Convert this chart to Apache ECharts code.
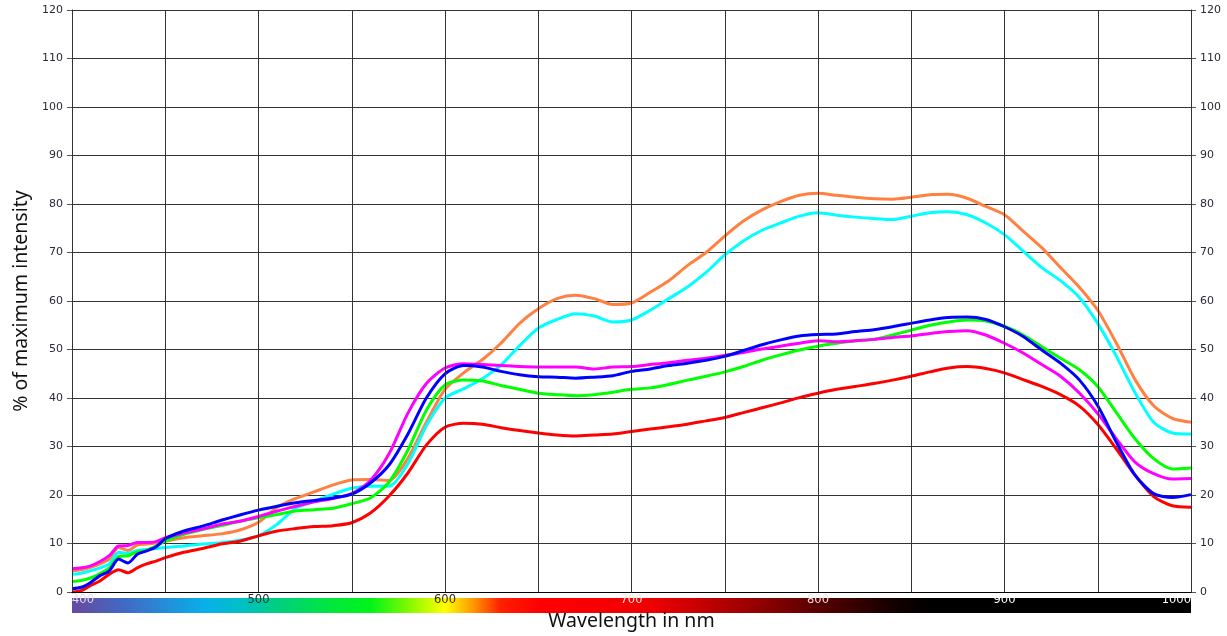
<!DOCTYPE html>
<html>
<head>
<meta charset="utf-8">
<script src="https://cdn.jsdelivr.net/npm/echarts@6/dist/echarts.min.js"></script>
<style>html,body{margin:0;padding:0;background:#fff}#c{width:1227px;height:636px}</style>
</head>
<body>
<div id="c"></div>
<script>
// Wavelengths (nm)
var wavelengths = [400,405,410,415,420,425,430,435,440,445,450,
  460,470,480,490,500,510,520,530,540,550,560,570,580,590,600,
  610,620,630,640,650,660,670,680,690,700,710,720,730,740,750,760,770,780,790,800,
  810,820,830,840,850,860,870,880,890,900,910,920,930,940,950,960,970,980,990,1000];

var orangeValues = [4.4,4.6,5.1,5.8,6.8,9.2,8.6,9.7,9.9,10.1,10.5,
  11.2,11.6,12.0,12.8,14.4,17.5,19.3,20.7,22.1,23.1,23.2,23.0,27.5,35.0,41.8,
  45.2,47.9,51.3,55.4,58.4,60.5,61.2,60.5,59.3,59.6,61.8,64.2,67.3,70.0,73.4,76.5,78.8,80.5,81.8,82.2,
  81.8,81.4,81.1,81.0,81.4,81.9,82.0,81.2,79.5,77.8,74.4,71.0,66.9,62.9,58.1,51.3,43.8,38.4,35.8,35.0];

var cyanValues = [3.7,3.9,4.4,5.0,5.8,8.2,8.0,8.6,8.8,9.0,9.2,
  9.5,9.9,10.2,10.7,11.6,14.0,17.3,18.7,20.2,21.4,21.8,21.8,26.4,34.3,40.0,
  41.9,44.0,46.8,50.8,54.4,56.2,57.4,56.9,55.7,56.1,58.1,60.5,62.9,65.9,69.5,72.4,74.6,76.1,77.5,78.2,
  77.7,77.3,77.0,76.8,77.5,78.2,78.4,77.8,76.1,73.7,70.3,66.9,64.2,60.8,55.4,48.6,41.1,35.0,32.8,32.6];

var magentaValues = [4.8,5.0,5.4,6.3,7.5,9.5,9.6,10.2,10.2,10.4,11.2,
  12.2,13.0,14.0,14.6,15.6,16.7,17.7,18.6,19.3,20.3,23.0,28.5,36.8,43.0,46.2,
  47.1,46.9,46.7,46.5,46.4,46.4,46.4,46.0,46.4,46.5,46.9,47.3,47.8,48.2,48.8,49.4,50.1,50.7,51.3,51.8,
  51.6,51.8,52.1,52.5,52.8,53.3,53.7,53.9,53.0,51.3,49.3,46.9,44.5,41.1,36.8,31.6,26.8,24.4,23.3,23.4];

var blueValues = [0.7,1.0,2.0,3.4,4.4,6.8,6.0,7.8,8.5,9.3,11.0,
  12.6,13.6,14.8,15.9,16.9,17.7,18.4,18.9,19.4,20.2,22.5,26.2,32.5,40.0,45.0,
  46.7,46.4,45.5,44.8,44.4,44.3,44.1,44.3,44.6,45.5,46.0,46.7,47.2,47.8,48.6,49.8,51.0,52.0,52.8,53.1,
  53.2,53.7,54.1,54.7,55.4,56.1,56.6,56.7,56.2,54.7,52.7,49.9,47.2,43.8,38.4,30.9,24.1,20.3,19.5,20.1];

var greenValues = [2.2,2.4,2.9,3.8,5.0,7.3,7.5,8.3,8.6,9.5,10.5,
  11.9,12.9,13.7,14.6,15.3,16.0,16.7,17.0,17.3,18.2,19.4,22.7,29.2,37.5,42.7,
  43.7,43.5,42.6,41.8,41.0,40.7,40.5,40.7,41.2,41.8,42.1,42.8,43.7,44.5,45.4,46.5,47.8,48.9,49.9,50.7,
  51.3,51.8,52.1,53.0,54.0,55.0,55.7,56.1,55.9,54.8,53.0,50.6,48.2,45.9,42.4,37.0,31.6,27.5,25.4,25.6];

var redValues = [0.0,0.3,1.4,2.3,3.7,4.6,4.0,5.0,5.8,6.4,7.1,
  8.2,9.0,9.9,10.5,11.6,12.6,13.1,13.5,13.7,14.3,16.3,19.8,24.5,30.3,34.0,
  34.8,34.6,33.9,33.3,32.8,32.4,32.2,32.4,32.6,33.1,33.6,34.1,34.6,35.3,36.0,37.0,38.0,39.0,40.1,41.0,
  41.8,42.4,43.0,43.7,44.5,45.4,46.2,46.5,46.1,45.2,43.8,42.4,40.7,38.4,34.6,29.5,24.1,19.7,17.8,17.5];

var yTicks = [0,10,20,30,40,50,60,70,80,90,100,110,120];
var xLabels = [400,500,600,700,800,900,1000];
var xLabelColors = {400:'#e4dcf2',500:'#1c2a2a',600:'#3a2a00',700:'#ffe4e4',800:'#f4e4e4',900:'#ffffff',1000:'#ffffff'};

function pairs(vals){ return wavelengths.map(function(w,i){ return [w, vals[i]]; }); }

var seriesDefs = [
  {name:'orange', color:'#ff8040', data:orangeValues},
  {name:'cyan', color:'#00ffff', data:cyanValues},
  {name:'red', color:'#ff0000', data:redValues},
  {name:'green', color:'#00ff00', data:greenValues},
  {name:'magenta', color:'#ff00ff', data:magentaValues},
  {name:'blue', color:'#0000ff', data:blueValues}
];

var G = {left:72, right:36, top:10, bottom:38};
var chart = echarts.init(document.getElementById('c'), null, {renderer:'canvas'});
var tickFont = 'DejaVu Sans';
var yAxisCommon = {
  type:'value', min:0, max:120, interval:10,
  axisLine:{show:true, lineStyle:{color:'#000', width:1}},
  axisTick:{show:true, length:5, lineStyle:{color:'#555'}},
  axisLabel:{color:'#2a2a3a', fontFamily:tickFont, fontSize:11, margin:9}
};
chart.setOption({
  animation:false,
  backgroundColor:'#ffffff',
  grid:{left:G.left, right:G.right, top:G.top, bottom:G.bottom, show:false},
  graphic:[{
    type:'rect', z:1,
    shape:{x:G.left, y:636-G.bottom, width:1227-G.left-G.right, height:15},
    style:{fill:new echarts.graphic.LinearGradient(0,0,1,0,[
      {offset:0, color:'#664a9e'},
      {offset:0.05, color:'#3e6cc6'},
      {offset:0.117, color:'#0aaeea'},
      {offset:0.15, color:'#00bfc8'},
      {offset:0.183, color:'#00cf80'},
      {offset:0.233, color:'#00e83a'},
      {offset:0.267, color:'#00f51a'},
      {offset:0.3, color:'#80f800'},
      {offset:0.333, color:'#ffff00'},
      {offset:0.358, color:'#ff9a00'},
      {offset:0.383, color:'#ff2000'},
      {offset:0.417, color:'#ff0000'},
      {offset:0.517, color:'#f00000'},
      {offset:0.6, color:'#a00000'},
      {offset:0.667, color:'#580000'},
      {offset:0.733, color:'#150000'},
      {offset:0.767, color:'#000000'},
      {offset:1, color:'#000000'}
    ])}
  }],
  xAxis:{
    type:'value', min:400, max:1000, interval:50, z:10,
    name:'Wavelength in nm', nameLocation:'middle', nameGap:16,
    nameTextStyle:{fontFamily:'Noto Sans', fontSize:19.5, color:'#111'},
    axisLine:{show:true, onZero:false, lineStyle:{color:'#000', width:1}},
    axisTick:{show:false},
    splitLine:{show:true, lineStyle:{color:'#333', width:1}},
    axisLabel:{
      fontFamily:tickFont, fontSize:11.5, margin:2,
      alignMinLabel:'left', alignMaxLabel:'right',
      formatter:function(v){ return xLabels.indexOf(v) >= 0 ? String(v) : ''; },
      color:function(v){ return xLabelColors[v] || '#000'; }
    }
  },
  yAxis:[
    Object.assign({}, yAxisCommon, {
      position:'left',
      name:'% of maximum intensity', nameLocation:'middle', nameGap:38, nameRotate:90,
      nameTextStyle:{fontFamily:'Noto Sans', fontSize:19.5, color:'#111'},
      splitLine:{show:true, lineStyle:{color:'#333', width:1}}
    }),
    Object.assign({}, yAxisCommon, {
      position:'right',
      splitLine:{show:false}
    })
  ],
  series:seriesDefs.map(function(s){
    return {
      name:s.name, type:'line', data:pairs(s.data), yAxisIndex:0,
      showSymbol:false, smooth:0.25, clip:true,
      lineStyle:{color:s.color, width:3},
      itemStyle:{color:s.color}, z:3
    };
  })
});
</script>
</body>
</html>
